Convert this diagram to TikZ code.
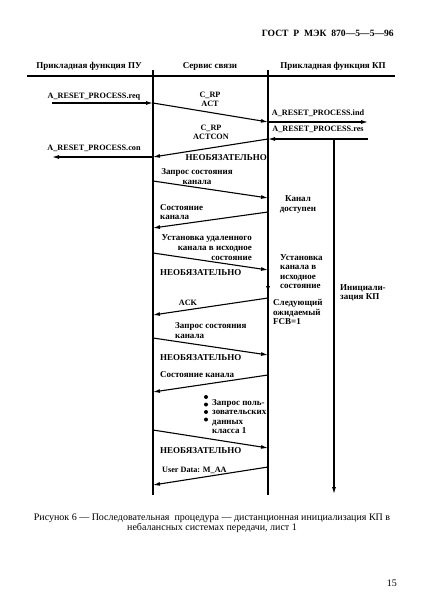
\documentclass[tikz,border=0pt]{standalone}
\usepackage{fontspec}
\setmainfont{Liberation Serif}
\usetikzlibrary{arrows.meta}
\begin{document}
\begin{tikzpicture}[x=1pt,y=-1pt,
  lbl/.style={font=\bfseries\fontsize{9}{9.6}\selectfont, inner sep=0pt},
  lat/.style={font=\bfseries\fontsize{8.2}{9.2}\selectfont, inner sep=0pt},
  captext/.style={font=\fontsize{10}{10.5}\selectfont, inner sep=0pt},
  life/.style={line width=1.1pt},
  msg/.style={line width=1.1pt,-{Latex[length=7pt,width=4pt]}},
  dot/.style={circle,fill=black,inner sep=0pt,minimum size=4pt}
]
\useasboundingbox (0,0) rectangle (422,610);
% header
\node[lbl, font=\bfseries\fontsize{9.6}{10}\selectfont, anchor=east] (gost) at (394,33) {ГОСТ\ \ Р\ \ МЭК\ \ 870—5—5—96};
\node[lbl] (h1) at (89,66) {Прикладная функция ПУ};
\node[lbl] (h2) at (210,66) {Сервис связи};
\node[lbl] (h3) at (333,66) {Прикладная функция КП};
\coordinate (hl) at (27,76); \coordinate (hr) at (395,76);
\draw[line width=1.6pt] (hl) -- (hr);
% lifelines
\coordinate (Lt) at (153,70); \coordinate (Lb) at (153,495);
\coordinate (Rt) at (268,70); \coordinate (Rb) at (268,495);
\coordinate (Kt) at (334,140); \coordinate (Kb) at (334,494);
\draw[life] (Lt) -- (Lb);
\draw[life] (Rt) -- (Rb);
\draw[life,-{Latex[length=7pt,width=4pt]}] (Kt) -- (Kb);
% message 1
\coordinate (a0) at (52,103); \coordinate (a1) at (153,103);
\coordinate (a2) at (268,122); \coordinate (a3) at (368,122);
\draw[msg] (a0) -- (a1);
\draw[msg] (a1) -- (a2);
\draw[msg] (a2) -- (a3);
\node[lat] (treq) at (94,97) {A\_RESET\_PROCESS.req};
\node[lat,align=center] (tact) at (210,99.5) {C\_RP\\ACT};
\node[lat] (tind) at (318,113) {A\_RESET\_PROCESS.ind};
% message 2
\coordinate (b0) at (368,139); \coordinate (b1) at (268,139);
\coordinate (b2) at (153,157); \coordinate (b3) at (52,157);
\draw[msg] (b0) -- (b1);
\draw[msg] (b1) -- (b2);
\draw[msg] (b2) -- (b3);
\node[lat] (tres) at (318,129.5) {A\_RESET\_PROCESS.res};
\node[lat,align=center] (tactcon) at (211,132) {C\_RP\\ACTCON};
\node[lat] (tcon) at (94,148) {A\_RESET\_PROCESS.con};
\node[lbl,anchor=east] (n1) at (267,158) {НЕОБЯЗАТЕЛЬНО};
% message 3
\coordinate (c0) at (153,181); \coordinate (c1) at (268,198);
\draw[msg] (c0) -- (c1);
\node[lbl,align=center] (tz1) at (197,176.5) {Запрос состояния\\канала};
\node[lbl,align=center] (tkd) at (298,204.5) {Канал\\доступен};
% message 4
\coordinate (d0) at (268,212); \coordinate (d1) at (153,228);
\draw[msg] (d0) -- (d1);
\node[lbl,align=left,anchor=west] (ts1) at (160,212) {Состояние\\канала};
% message 5
\coordinate (e0) at (153,253); \coordinate (e1) at (268,270);
\draw[msg] (e0) -- (e1);
\node[lbl,align=right,anchor=east] (tu1) at (252,247.5) {Установка удаленного\\канала в исходное\\состояние};
\node[lbl,anchor=west] (n2) at (160,273) {НЕОБЯЗАТЕЛЬНО};
\node[lbl,align=left,anchor=west] (tu2) at (280,271.5) {Установка\\канала в\\исходное\\состояние};
\coordinate (f0) at (268,280); \coordinate (f1) at (268,293);
\draw[life,-{Latex[length=7pt,width=4pt]}] (f0) -- (f1);
\node[lbl,align=left,anchor=west] (tin) at (340,293) {Инициали-\\зация КП};
% message 6 ACK
\coordinate (g0) at (268,298); \coordinate (g1) at (153,315);
\draw[msg] (g0) -- (g1);
\node[lat] (tack) at (188,303) {ACK};
\node[lbl,align=left,anchor=west] (tfcb) at (273,312) {Следующий\\ожидаемый\\FCB=1};
% message 7
\coordinate (h0) at (153,338); \coordinate (h1x) at (268,355);
\draw[msg] (h0) -- (h1x);
\node[lbl,align=left,anchor=west] (tz2) at (175,330.5) {Запрос состояния\\канала};
\node[lbl,anchor=west] (n3) at (160,358) {НЕОБЯЗАТЕЛЬНО};
% message 8
\coordinate (i0) at (268,375); \coordinate (i1) at (153,392);
\draw[msg] (i0) -- (i1);
\node[lbl,anchor=west] (ts2) at (160,375) {Состояние канала};
% dots
\node[dot] (p1) at (206,397) {};
\node[dot] (p2) at (206,404.5) {};
\node[dot] (p3) at (206,412) {};
\node[dot] (p4) at (206,419.5) {};
\node[lbl,align=left,anchor=west] (tzp) at (212,416.5) {Запрос поль-\\зовательских\\данных\\класса 1};
% message 9
\coordinate (j0) at (153,430); \coordinate (j1) at (268,448);
\draw[msg] (j0) -- (j1);
\node[lbl,anchor=west] (n4) at (160,451) {НЕОБЯЗАТЕЛЬНО};
% message 10
\coordinate (k0) at (268,467); \coordinate (k1) at (153,485);
\draw[msg] (k0) -- (k1);
\node[lat,anchor=west] (tud) at (162,470) {User Data: M\_AA};
% caption
\node[captext,align=center] (capt) at (212,523) {Рисунок 6 — Последовательная\ \ процедура — дистанционная инициализация КП в\\небалансных системах передачи, лист 1};
\node[captext,anchor=east] (pg) at (397,583) {15};
\end{tikzpicture}
\end{document}
